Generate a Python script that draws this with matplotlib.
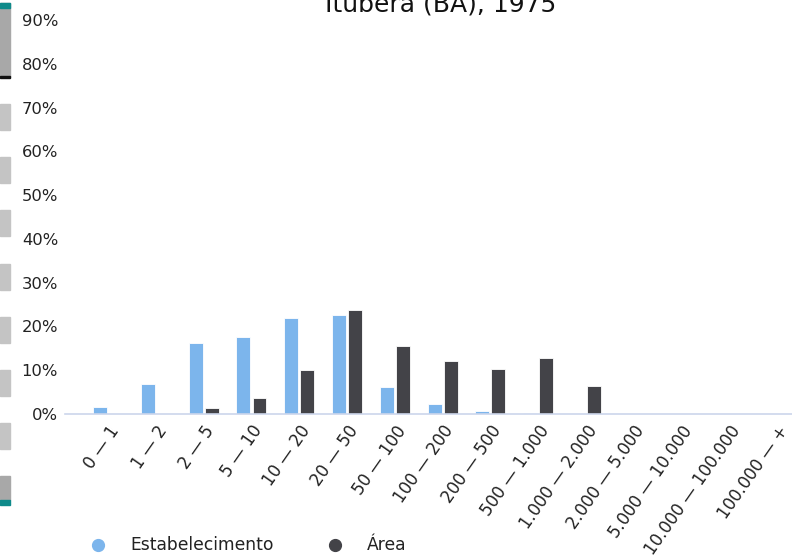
"""
Ituberá (BA), 1975 - estabelecimentos e área por grupo de área
"""

import numpy as np
import matplotlib
matplotlib.use("Agg")
import matplotlib.pyplot as plt
from matplotlib.patches import Rectangle
from matplotlib.lines import Line2D
from matplotlib.ticker import FuncFormatter

plt.rcParams['font.family'] = ['DejaVu Sans']

TITLE = "Ituberá (BA), 1975"

categories = ["0 — 1", "1 — 2", "2 — 5", "5 — 10", "10 — 20", "20 — 50",
              "50 — 100", "100 — 200", "200 — 500", "500 — 1.000",
              "1.000 — 2.000", "2.000 — 5.000", "5.000 — 10.000",
              "10.000 — 100.000", "100.000 — +"]

# shares in percent
estabelecimento = [1.6, 6.9, 16.2, 17.6, 21.9, 22.6, 6.1, 2.2, 0.7, 0.2,
                   0.0, 0.0, 0.0, 0.0, 0.0]
area = [0.0, 0.0, 1.4, 3.7, 10.1, 23.8, 15.5, 12.1, 10.3, 12.9,
        6.3, 0.0, 0.0, 0.0, 0.0]

BLUE = "#7cb5ec"
DARK = "#434348"
TEXT = "#222222"

W, H = 792, 555
fig = plt.figure(figsize=(W / 100, H / 100), dpi=100)

# plot area: 0% at y=414px, 90% at y=20px, x from 65px to the right edge
ax = fig.add_axes([65 / W, 1 - 414 / H, 1 - 65 / W, (414 - 20) / H])

x = np.arange(len(categories))
bw = 0.29
off = 0.168
ax.bar(x - off, np.array(estabelecimento) / 100, width=bw, color=BLUE,
       edgecolor="white", linewidth=0.6)
ax.bar(x + off, np.array(area) / 100, width=bw, color=DARK,
       edgecolor="white", linewidth=0.6)

ax.set_xlim(-0.9, 14.31)
ax.set_ylim(0, 0.9)
ax.set_yticks(np.arange(0, 0.91, 0.1))
ax.yaxis.set_major_formatter(FuncFormatter(lambda v, p: f"{round(v * 100)}%"))
ax.tick_params(axis="y", length=0, pad=5, labelsize=11.8, labelcolor=TEXT)

ax.set_xticks(x)
ax.set_xticklabels(categories, rotation=55, ha="right", va="top",
                   rotation_mode="anchor", fontsize=12, color=TEXT)
ax.tick_params(axis="x", length=0, pad=6)

for s in ["top", "right", "left"]:
    ax.spines[s].set_visible(False)
ax.spines["bottom"].set_color("#ccd6eb")
ax.spines["bottom"].set_linewidth(1.2)
ax.set_facecolor("none")

# title, mostly cut off at the top edge
fig.text(441 / W, 1 - 12 / H, TITLE, ha="center", va="baseline",
         fontsize=18, color="#111111")

# legend
for cx, tx, col, lab in [(98, 130, BLUE, "Estabelecimento"),
                         (335, 367, DARK, "Área")]:
    fig.add_artist(Line2D([cx / W], [1 - 545 / H], marker="o", markersize=8.5,
                          color=col, linestyle="none",
                          transform=fig.transFigure))
    fig.text(tx / W, 1 - 545 / H, lab, ha="left", va="center",
             fontsize=12.3, color=TEXT)

# scroller strip on the left edge
fig.patches.append(Rectangle((0, 1 - 77 / H), 10 / W, 74 / H,
                             transform=fig.transFigure, color="#a8a8a8"))
fig.patches.append(Rectangle((0, 1 - 8 / H), 10 / W, 5 / H,
                             transform=fig.transFigure, color="#0f8a8a"))
fig.patches.append(Rectangle((0, 1 - 78 / H), 10 / W, 2 / H,
                             transform=fig.transFigure, color="#111111"))
for top in [104, 157, 210, 264, 317, 370, 423]:
    fig.patches.append(Rectangle((0, 1 - (top + 26) / H), 10 / W, 26 / H,
                                 transform=fig.transFigure, color="#c4c4c4"))
fig.patches.append(Rectangle((0, 1 - 500 / H), 10 / W, 24 / H,
                             transform=fig.transFigure, color="#a8a8a8"))
fig.patches.append(Rectangle((0, 1 - 505 / H), 10 / W, 5 / H,
                             transform=fig.transFigure, color="#0f8a8a"))

fig.savefig("out.png", dpi=100)
